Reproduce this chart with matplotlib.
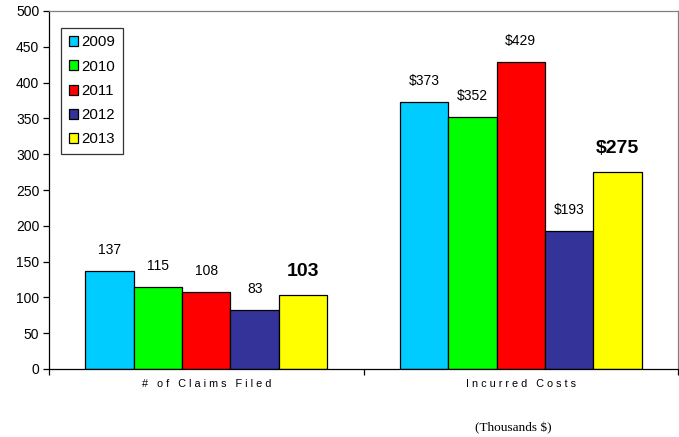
import matplotlib
matplotlib.use("Agg")
import matplotlib.pyplot as plt
import numpy as np

categories = ["# of Claims Filed", "Incurred Costs"]
years = ["2009", "2010", "2011", "2012", "2013"]
claims = [137, 115, 108, 83, 103]
costs = [373, 352, 429, 193, 275]
colors = ["#00CCFF", "#00FF00", "#FF0000", "#333399", "#FFFF00"]

plt.rcParams["font.family"] = ["Liberation Sans", "DejaVu Sans"]

fig = plt.figure(figsize=(6.79, 4.37), dpi=100)
ax = fig.add_axes([49 / 679, 68 / 437, 629 / 679, 358 / 437])

series = np.array([claims, costs]).T  # rows: years, cols: categories
x = np.arange(len(categories))
n = len(years)
group = 0.77
w = group / n

for i, (yr, vals, c) in enumerate(zip(years, series, colors)):
    xs = x - group / 2 + w * (i + 0.5)
    ax.bar(xs, vals, width=w, color=c, edgecolor="black", linewidth=0.9, label=yr)
    for j, (xx, v) in enumerate(zip(xs, vals)):
        txt = f"{v}" if j == 0 else f"${v}"
        last = i == n - 1
        ax.annotate(txt, (xx, v), xytext=(0, 11 if last else 10), textcoords="offset points",
                    ha="center", va="bottom",
                    fontsize=14 if last else 10,
                    fontweight="bold" if last else "normal")

ax.set_xlim(-0.5, len(categories) - 0.5)
ax.set_ylim(0, 500)
ax.set_yticks(np.arange(0, 501, 50))
ax.tick_params(axis="y", labelsize=10, direction="out", length=4, width=0.9, pad=3)

# category boundaries carry the tick marks, labels sit in the middle
ax.set_xticks(np.arange(-0.5, len(categories), 1.0))
ax.set_xticklabels([])
ax.set_xticks(x, minor=True)
ax.set_xticklabels([" ".join(list(c)) for c in categories], minor=True, fontsize=7.8)
ax.tick_params(axis="x", which="major", direction="out", length=4, width=0.9)
ax.tick_params(axis="x", which="minor", length=0, pad=7)

for s in ["top", "right"]:
    ax.spines[s].set_color("#808080")
    ax.spines[s].set_linewidth(0.9)
for s in ["left", "bottom"]:
    ax.spines[s].set_color("black")
    ax.spines[s].set_linewidth(0.9)

leg = ax.legend(loc="upper left", bbox_to_anchor=(12 / 629, 1 - 17 / 358), fontsize=10.8,
                frameon=True, fancybox=False, edgecolor="black", handlelength=0.65,
                handleheight=0.65, handletextpad=0.2, labelspacing=0.68,
                borderpad=0.5, borderaxespad=0)
leg.get_frame().set_linewidth(0.9)

fig.text(513 / 679, 1 - 428 / 437, "(Thousands $)", ha="center", va="center",
         fontsize=9.5, family=["Liberation Serif", "DejaVu Serif"])

fig.savefig("out.png", dpi=100)
